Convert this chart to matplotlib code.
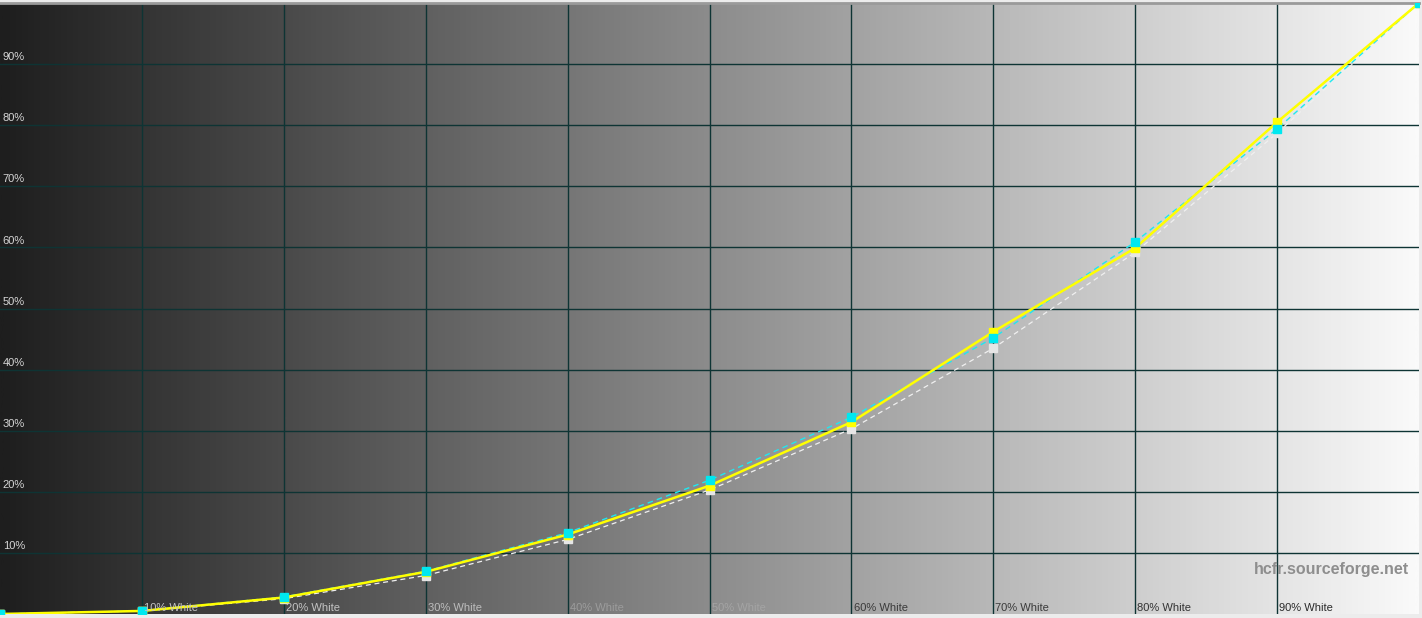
import numpy as np
import matplotlib.pyplot as plt
from matplotlib.colors import LinearSegmentedColormap

# niveles de gris medidos (eje X) y luminancia en % (eje Y)
levels = [0, 10, 20, 30, 40, 50, 60, 70, 80, 90, 100]
reference = [0, 0.5, 2.5, 6.3, 12.2, 20.3, 30.3, 43.5, 59.2, 78.7, 100]
measured_y = [0, 0.5, 2.7, 6.9, 13.0, 21.0, 31.4, 46.2, 59.9, 80.5, 100]
measured_c = [0, 0.5, 2.8, 7.0, 13.3, 21.9, 32.2, 45.2, 60.9, 79.4, 100]

y_ticks = [10, 20, 30, 40, 50, 60, 70, 80, 90]
y_labels = ['10%', '20%', '30%', '40%', '50%', '60%', '70%', '80%', '90%']
x_ticks = [10, 20, 30, 40, 50, 60, 70, 80, 90]
x_labels = ['10% White', '20% White', '30% White', '40% White', '50% White',
            '60% White', '70% White', '80% White', '90% White']
x_label_colors = ['#c4c4c4', '#c4c4c4', '#bdbdbd', '#9c9c9c', '#a4a4a4',
                  '#3a3a3a', '#3a3a3a', '#333333', '#2a2a2a']

plt.rcParams['font.family'] = ['Liberation Sans', 'DejaVu Sans']

W, H = 1422, 618
fig = plt.figure(figsize=(W / 100, H / 100), dpi=100, facecolor='#ececec')
ax = fig.add_axes([0 / W, 4 / H, 1419 / W, 611 / H])

# fondo en degradado horizontal
cmap = LinearSegmentedColormap.from_list('bg', ['#1e1e1e', '#fafafa'])
grad = np.linspace(0, 1, 512).reshape(1, -1)
ax.imshow(grad, cmap=cmap, extent=[0, 100, 0, 100], aspect='auto', zorder=0)

grid_c = '#0e3434'
for v in x_ticks:
    ax.axvline(v, color=grid_c, lw=1.0, zorder=1)
for v in y_ticks:
    ax.axhline(v, color=grid_c, lw=1.0, zorder=1)

# curva de referencia
ax.plot(levels, reference, color='#f0f0f0', lw=0.9, ls=(0, (4, 3)), zorder=2)
ax.plot(levels, reference, ls='none', marker='s', ms=6, color='#e6e6e6', zorder=2)

# medidas
ax.plot(levels, measured_c, color='#20e8f0', lw=1.0, ls=(0, (4, 3)), zorder=3)
ax.plot(levels, measured_y, color='#ffff00', lw=1.8, marker='s', ms=6, zorder=4)
ax.plot(levels, measured_c, ls='none', marker='s', ms=6, color='#00e8f0', zorder=5)

for v, lab in zip(y_ticks, y_labels):
    ax.text(0.2, v + 0.3, lab, color='#d6d6d6', fontsize=8, va='bottom', ha='left', zorder=6)
for v, lab, c in zip(x_ticks, x_labels, x_label_colors):
    ax.text(v + 0.15, 0.15, lab, color=c, fontsize=8, va='bottom', ha='left', zorder=6)

ax.text(99.3, 7.3, 'hcfr.sourceforge.net', color='#8e8e8e', fontsize=11.5,
        fontweight='bold', ha='right', va='center', zorder=6)

ax.set_xlim(0, 100)
ax.set_ylim(0, 100)
ax.set_xticks([])
ax.set_yticks([])
for s in ax.spines.values():
    s.set_visible(False)
ax.spines['top'].set_visible(True)
ax.spines['top'].set_color('#9a9a9a')
ax.spines['top'].set_linewidth(2)

fig.savefig('out.png', dpi=100, facecolor=fig.get_facecolor())
